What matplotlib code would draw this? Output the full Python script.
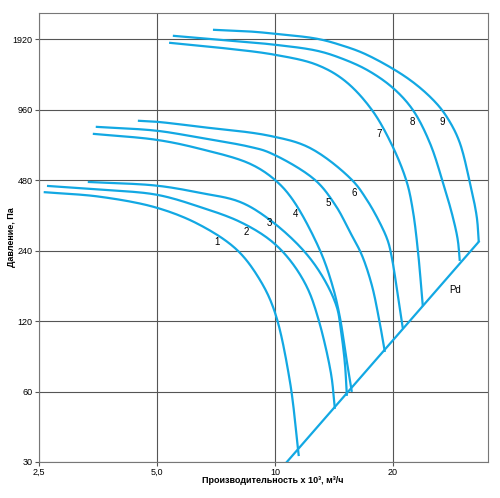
import numpy as np
import matplotlib
matplotlib.use("Agg")
import matplotlib.pyplot as plt
from matplotlib.ticker import FixedLocator, FixedFormatter, NullLocator

plt.rcParams["font.family"] = ["Liberation Sans", "DejaVu Sans"]

# характеристики вентиляторов 1..9 (производительность x1000 м3/ч, давление Па)
x1 = [2.57, 3.58, 5.0, 6.44, 8.0, 9.16, 10.0, 10.92, 11.51]
y1 = [427, 408, 366, 309, 242, 180, 131, 66.6, 31.8]

x2 = [2.62, 3.58, 5.0, 6.44, 8.14, 9.71, 10.92, 12.07, 12.87, 13.9, 14.23]
y2 = [454, 438, 416, 369, 319, 267, 219, 168, 125, 72.1, 50.6]

x3 = [3.33, 5.0, 6.44, 8.14, 9.71, 11.79, 13.26, 14.39, 14.74, 15.09, 15.27]
y3 = [472, 455, 424, 388, 325, 242, 185, 138, 110, 79.5, 57.5]

x4 = [3.43, 5.0, 6.44, 8.63, 10.0, 11.11, 13.02, 14.06, 14.65, 15.27, 15.72]
y4 = [758, 714, 654, 565, 482, 396, 242, 168, 125, 80.5, 59.8]

x5 = [3.49, 5.0, 6.44, 8.63, 9.71, 12.65, 14.31, 15.54, 16.67, 17.68, 18.42, 19.09]
y5 = [812, 781, 729, 667, 629, 482, 373, 289, 230, 171, 124, 88.6]

x6 = [4.47, 5.0, 6.44, 9.71, 12.28, 15.72, 17.17, 18.53, 19.43, 19.89, 20.6, 21.21]
y6 = [862, 853, 812, 743, 660, 482, 396, 316, 264, 224, 155, 112]

x7 = [5.37, 7.24, 10.0, 12.8, 15.09, 17.68, 20.0, 21.71, 22.49, 23.17, 23.86]
y7 = [1857, 1768, 1650, 1495, 1277, 960, 667, 472, 359, 242, 139]

x8 = [5.49, 7.24, 10.0, 12.8, 14.65, 17.17, 20.0, 22.49, 24.86, 26.83, 28.45, 29.3, 29.65]
y8 = [1989, 1912, 1821, 1717, 1602, 1423, 1192, 960, 694, 472, 335, 267, 217]

x9 = [6.95, 8.63, 10.0, 12.8, 14.65, 17.17, 22.1, 25.9, 27.96, 29.65, 31.44, 32.76, 33.15]
y9 = [2110, 2075, 2029, 1932, 1821, 1650, 1290, 1019, 853, 694, 472, 335, 262]

# линия динамического давления
pd_x = [10.73, 33.15]
pd_y = [30, 262]

curve_names = ["1", "2", "3", "4", "5", "6", "7", "8", "9"]
label_x = [7.11, 8.43, 9.71, 11.31, 13.65, 15.9, 18.42, 22.49, 26.67]
label_y = [262, 289, 316, 345, 384, 424, 758, 853, 853]

xticks = [2.5, 5.0, 10, 20]
xtick_labels = ["2,5", "5,0", "10", "20"]
yticks = [30, 60, 120, 240, 480, 960, 1920]
ytick_labels = ["30", "60", "120", "240", "480", "960", "1920"]

blue = "#12a8e3"


def smooth(ax, xs, ys, n=16, alpha=0.5):
    # centripetal Catmull-Rom through the read points, in display space
    P = ax.transData.transform(np.column_stack([xs, ys]))
    P = np.vstack([2 * P[0] - P[1], P, 2 * P[-1] - P[-2]])
    out = []
    for i in range(len(P) - 3):
        p0, p1, p2, p3 = P[i:i + 4]
        t0 = 0.0
        t1 = t0 + np.linalg.norm(p1 - p0) ** alpha
        t2 = t1 + np.linalg.norm(p2 - p1) ** alpha
        t3 = t2 + np.linalg.norm(p3 - p2) ** alpha
        t = np.linspace(t1, t2, n, endpoint=False)[:, None]
        a1 = (t1 - t) / (t1 - t0) * p0 + (t - t0) / (t1 - t0) * p1
        a2 = (t2 - t) / (t2 - t1) * p1 + (t - t1) / (t2 - t1) * p2
        a3 = (t3 - t) / (t3 - t2) * p2 + (t - t2) / (t3 - t2) * p3
        b1 = (t2 - t) / (t2 - t0) * a1 + (t - t0) / (t2 - t0) * a2
        b2 = (t3 - t) / (t3 - t1) * a2 + (t - t1) / (t3 - t1) * a3
        out.append((t2 - t) / (t2 - t1) * b1 + (t - t1) / (t2 - t1) * b2)
    out.append(P[-2][None, :])
    D = ax.transData.inverted().transform(np.vstack(out))
    return D[:, 0], D[:, 1]


fig = plt.figure(figsize=(5, 4.98), dpi=100)
ax = fig.add_axes([0.078, 0.0723, 0.898, 0.9017])

ax.set_xscale("log")
ax.set_yscale("log")
ax.set_xlim(2.5, 35.0)
ax.set_ylim(30, 2490)

for xs, ys in [(x1, y1), (x2, y2), (x3, y3), (x4, y4), (x5, y5),
               (x6, y6), (x7, y7), (x8, y8), (x9, y9)]:
    sx, sy = smooth(ax, xs, ys)
    ax.plot(sx, sy, color=blue, lw=1.6, solid_capstyle="butt", zorder=3)

ax.plot(pd_x, pd_y, color=blue, lw=1.6, zorder=3)

for name, lx, ly in zip(curve_names, label_x, label_y):
    ax.text(lx, ly, name, fontsize=7, ha="center", va="center", zorder=4)
ax.text(28.8, 163, "Pd", fontsize=7, ha="center", va="center", zorder=4)

ax.xaxis.set_major_locator(FixedLocator(xticks))
ax.xaxis.set_major_formatter(FixedFormatter(xtick_labels))
ax.xaxis.set_minor_locator(NullLocator())
ax.yaxis.set_major_locator(FixedLocator(yticks))
ax.yaxis.set_major_formatter(FixedFormatter(ytick_labels))
ax.yaxis.set_minor_locator(NullLocator())

ax.grid(True, color="#555555", lw=0.8)
ax.tick_params(labelsize=6.5, length=3, width=0.8, color="#555555", pad=1.5)
for sp in ax.spines.values():
    sp.set_color("#777777")
    sp.set_linewidth(0.8)

ax.set_xlabel("Производительность x 10³, м³/ч", fontsize=6.5, fontweight="bold")
ax.xaxis.set_label_coords(0.521, -0.032)
ax.set_ylabel("Давление, Па", fontsize=6.5, fontweight="bold")
ax.yaxis.set_label_coords(-0.052, 0.5)

fig.savefig("out.png", dpi=100)
